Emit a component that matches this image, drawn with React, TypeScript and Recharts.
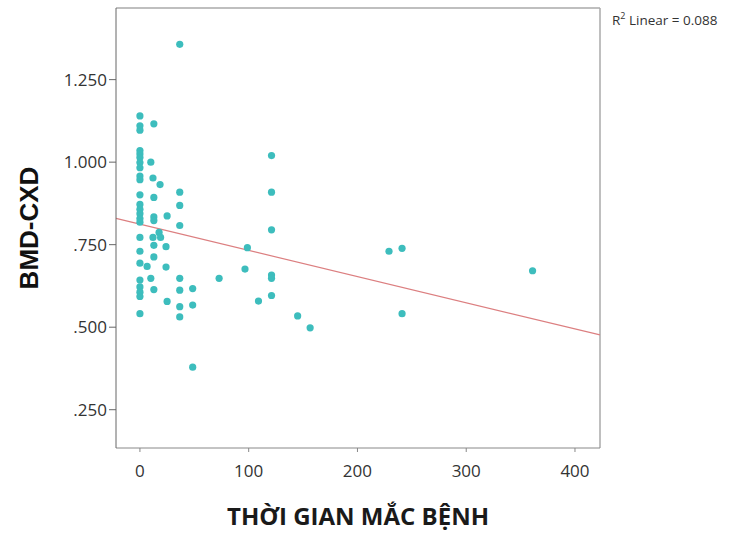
import { ScatterChart, Scatter, XAxis, YAxis, ReferenceLine, Label } from "recharts";

// Thời gian mắc bệnh (months) vs BMD-CXD
const duration = [
    36.6, 0, 0, 0, 12.8,
    0, 0, 0, 0, 0, 0, 0, 10, 12, 18.5,
    0, 0, 0, 0, 0, 0,
    12.8, 12.8, 12.8, 25, 36.6, 36.6, 36.6,
    17.6, 19, 12, 12.8, 24, 12.8,
    0, 0, 0, 6.6, 24,
    0, 10, 0, 0, 0, 12.8,
    0, 25,
    36.6, 36.6, 36.6, 36.6, 48.5, 48.5, 48.5,
    72.8, 98.8, 96.6, 109,
    121, 121, 121, 121, 121, 121,
    145, 156.5, 229, 241, 241, 361,
];
const bmd = [
    1.357, 1.140, 1.110, 1.097, 1.116,
    1.035, 1.025, 1.014, 0.999, 0.983, 0.958, 0.947, 1.0, 0.952, 0.932,
    0.901, 0.872, 0.857, 0.844, 0.829, 0.818,
    0.893, 0.834, 0.823, 0.837, 0.909, 0.869, 0.808,
    0.787, 0.772, 0.772, 0.748, 0.744, 0.713,
    0.772, 0.730, 0.694, 0.684, 0.682,
    0.643, 0.648, 0.622, 0.606, 0.593, 0.614,
    0.541, 0.578,
    0.648, 0.612, 0.562, 0.531, 0.617, 0.567, 0.379,
    0.648, 0.741, 0.676, 0.579,
    1.020, 0.909, 0.795, 0.658, 0.648, 0.596,
    0.534, 0.498, 0.730, 0.739, 0.541, 0.671,
];

const xTicks = [0, 100, 200, 300, 400];
const yTicks = [0.25, 0.5, 0.75, 1.0, 1.25];

// linear fit
const intercept = 0.812;
const slope = -0.000793;
const xMin = -22;
const xMax = 423;
const yMin = 0.134;
const yMax = 1.467;

const points = duration.map((d, i) => ({ x: d, y: bmd[i] }));

const fmtY = (v: number) => {
    const s = v.toFixed(3);
    return s.startsWith("0") ? s.slice(1) : s;
};

const Dot = (props: any) => <circle cx={props.cx} cy={props.cy} r={3.6} fill="#3dbdbd" />;

const tickStyle = { fontSize: 17, fill: "#333", fontFamily: "'Open Sans', sans-serif" };

export default function App() {
    return (
        <div style={{ position: "absolute", left: 0, top: 0, width: 750, height: 534, background: "#fff" }}>
            <ScatterChart width={750} height={534} margin={{ top: 8, right: 150, bottom: 46, left: 16 }}>
                <XAxis
                    type="number"
                    dataKey="x"
                    domain={[xMin, xMax]}
                    ticks={xTicks}
                    allowDataOverflow
                    height={40}
                    stroke="#888"
                    tickSize={4}
                    tickMargin={13}
                    tick={tickStyle}
                >
                    <Label
                        value="THỜI GIAN MẮC BỆNH"
                        position="bottom"
                        offset={20}
                        style={{ fontSize: 24, fontWeight: 700, fill: "#1a1a1a", fontFamily: "'Open Sans', sans-serif" }}
                    />
                </XAxis>
                <YAxis
                    type="number"
                    dataKey="y"
                    domain={[yMin, yMax]}
                    ticks={yTicks}
                    allowDataOverflow
                    width={100}
                    stroke="#666"
                    tickSize={7}
                    tickFormatter={fmtY}
                    tick={tickStyle}
                >
                    <Label
                        value="BMD-CXD"
                        angle={-90}
                        position="insideLeft"
                        offset={13}
                        style={{ fontSize: 26, fontWeight: 700, fill: "#111", fontFamily: "'Liberation Sans', Arial, sans-serif", textAnchor: "middle" }}
                    />
                </YAxis>
                <ReferenceLine y={yMax} stroke="#aaa" strokeWidth={1.5} />
                <ReferenceLine x={xMax} stroke="#aaa" strokeWidth={1.5} />
                <ReferenceLine
                    segment={[
                        { x: xMin, y: intercept + slope * xMin },
                        { x: xMax, y: intercept + slope * xMax },
                    ]}
                    stroke="#dc7f80"
                    strokeWidth={1.2}
                />
                <Scatter data={points} shape={<Dot />} isAnimationActive={false} />
            </ScatterChart>
            <div style={{ position: "absolute", left: 612, top: 9, fontSize: 13.5, color: "#333", fontFamily: "'Open Sans', sans-serif", whiteSpace: "nowrap" }}>
                R<sup style={{ fontSize: 9 }}>2</sup> Linear = 0.088
            </div>
        </div>
    );
}
